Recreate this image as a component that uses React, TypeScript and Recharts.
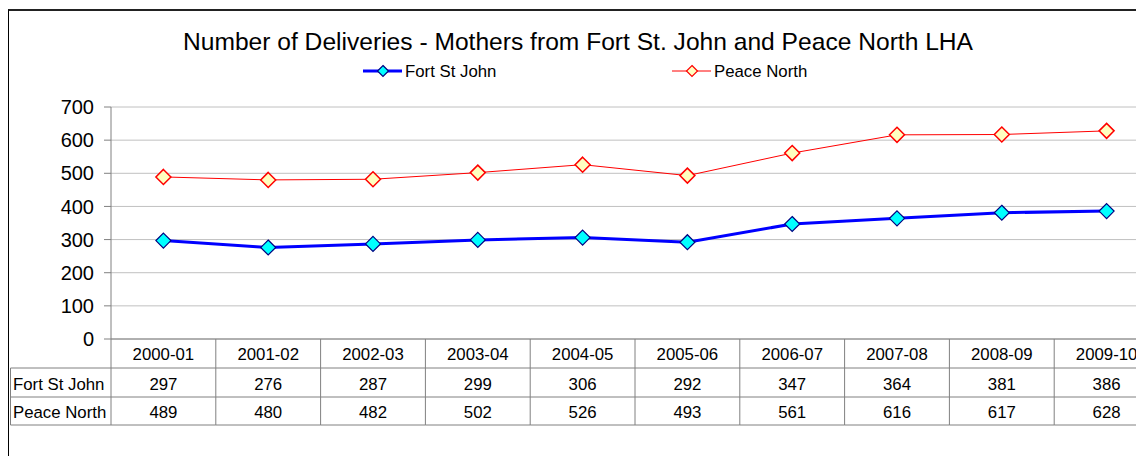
import React from 'react';
import { LineChart, Line, XAxis, YAxis, CartesianGrid } from 'recharts';

const categories = ['2000-01', '2001-02', '2002-03', '2003-04', '2004-05', '2005-06', '2006-07', '2007-08', '2008-09', '2009-10'];
const fortStJohn = [297, 276, 287, 299, 306, 292, 347, 364, 381, 386];
const peaceNorth = [489, 480, 482, 502, 526, 493, 561, 616, 617, 628];
const yTicks = [0, 100, 200, 300, 400, 500, 600, 700];
const seriesNames = ['Fort St John', 'Peace North'];
const titleText = 'Number of Deliveries - Mothers from Fort St. John and Peace North LHA';

const data = categories.map((c, i) => ({ period: c, fsj: fortStJohn[i], pn: peaceNorth[i] }));
const rows = [fortStJohn, peaceNorth];

const FONT = '"Liberation Sans", Arial, sans-serif';
const CHART_W = 1170;
const CHART_H = 448;
const MARGIN = { top: 99, right: 19, bottom: 22, left: 3 };
const Y_W = 100;
const X_H = 95;
const PLOT_LEFT = MARGIN.left + Y_W;
const PLOT_W = CHART_W - PLOT_LEFT - MARGIN.right;
const BAND = PLOT_W / categories.length;
const ROW_LINES = [29, 58, 86];
const ROW_BASE = [21, 51, 79];
const LABEL_LEFT = 2.5;
const GRID_STROKE = '#808080';
const TABLE_FONT = 16.8;

const makeDiamond = (fill: string, stroke: string, r: number, sw: number) => (props: any) => {
  const { cx, cy, index } = props;
  if (cx == null || cy == null) return <g key={`e${index}`} />;
  const pts = `${cx},${cy - r} ${cx + r},${cy} ${cx},${cy + r} ${cx - r},${cy}`;
  return <polygon key={`d${index}`} points={pts} fill={fill} stroke={stroke} strokeWidth={sw} />;
};

const BlueDot = makeDiamond('#00FFFF', '#000080', 7.5, 1.2);
const RedDot = makeDiamond('#FFFFC0', '#FF0000', 7.5, 1.5);

function TableTick(props: any) {
  const { x, y, payload } = props;
  const i = payload && payload.index != null ? payload.index : props.index;
  const left = x - BAND / 2;
  const right = x + BAND / 2;
  const textStyle = { fontFamily: FONT, fontSize: TABLE_FONT, fill: '#000' } as any;
  return (
    <g>
      <line x1={right} x2={right} y1={y} y2={y + ROW_LINES[2]} stroke={GRID_STROKE} strokeWidth={1} />
      {i === 0 && <line x1={left} x2={left} y1={y} y2={y + ROW_LINES[2]} stroke={GRID_STROKE} strokeWidth={1} />}
      {ROW_LINES.map((d, k) => (
        <line key={k} x1={left} x2={right} y1={y + d} y2={y + d} stroke={GRID_STROKE} strokeWidth={1} />
      ))}
      <text x={x} y={y + ROW_BASE[0]} textAnchor="middle" style={textStyle}>{payload.value}</text>
      {rows.map((r, k) => (
        <text key={k} x={x} y={y + ROW_BASE[k + 1]} textAnchor="middle" style={textStyle}>{r[i]}</text>
      ))}
      {i === 0 && (
        <g>
          {ROW_LINES.map((d, k) => (
            <line key={k} x1={LABEL_LEFT} x2={left} y1={y + d} y2={y + d} stroke={GRID_STROKE} strokeWidth={1} />
          ))}
          <line x1={LABEL_LEFT} x2={LABEL_LEFT} y1={y + ROW_LINES[0]} y2={y + ROW_LINES[2]} stroke={GRID_STROKE} strokeWidth={1} />
          {seriesNames.map((n, k) => (
            <text key={k} x={LABEL_LEFT + 2.5} y={y + ROW_BASE[k + 1]} textAnchor="start" style={textStyle}>{n}</text>
          ))}
        </g>
      )}
    </g>
  );
}

function LegendOverlay() {
  const items = [
    { name: seriesNames[0], x0: 355, color: '#0000FF', sw: 3, fill: '#00FFFF', stroke: '#000080' },
    { name: seriesNames[1], x0: 664, color: '#FF0000', sw: 1, fill: '#FFFFC0', stroke: '#FF0000' },
  ];
  const cy = 63;
  return (
    <svg width={1128} height={90} style={{ position: 'absolute', left: 0, top: 0 }}>
      <text x={570} y={42} textAnchor="middle" style={{ fontFamily: FONT, fontSize: 24.6, fill: '#000' }}>{titleText}</text>
      {items.map((it) => {
        const r = 5.5;
        const dx = it.x0 + 20;
        return (
          <g key={it.name}>
            <line x1={it.x0} x2={it.x0 + 39} y1={cy} y2={cy} stroke={it.color} strokeWidth={it.sw} />
            <polygon points={`${dx},${cy - r} ${dx + r},${cy} ${dx},${cy + r} ${dx - r},${cy}`} fill={it.fill} stroke={it.stroke} strokeWidth={1.2} />
            <text x={it.x0 + 42} y={cy + 6} style={{ fontFamily: FONT, fontSize: TABLE_FONT, fill: '#000' }}>{it.name}</text>
          </g>
        );
      })}
    </svg>
  );
}

export default function App() {
  return (
    <div style={{ position: 'fixed', left: 8, top: 8, width: 1128, height: 448, overflow: 'hidden', background: '#fff' }}>
      <div style={{ position: 'absolute', left: 0, top: 1, width: 2000, height: 2000, borderTop: '2px solid #222', borderLeft: '1px solid #000', boxSizing: 'border-box' }} />
      <LegendOverlay />
      <div style={{ position: 'absolute', left: 0, top: 0 }}>
        <LineChart width={CHART_W} height={CHART_H} data={data} margin={MARGIN}>
          <CartesianGrid vertical={false} stroke="#c0c0c0" />
          <XAxis
            dataKey="period"
            type="category"
            scale="band"
            height={X_H}
            interval={0}
            tickSize={0}
            tickMargin={0}
            tickLine={false}
            axisLine={{ stroke: GRID_STROKE }}
            tick={<TableTick />}
          />
          <YAxis
            domain={[0, 700]}
            ticks={yTicks}
            interval={0}
            width={Y_W}
            tickSize={7}
            tickMargin={10}
            axisLine={{ stroke: GRID_STROKE }}
            tickLine={{ stroke: GRID_STROKE }}
            tick={{ fontSize: 20, fill: '#000', fontFamily: FONT }}
          />
          <Line dataKey="pn" name={seriesNames[1]} stroke="#FF0000" strokeWidth={1} dot={RedDot} activeDot={false} isAnimationActive={false} />
          <Line dataKey="fsj" name={seriesNames[0]} stroke="#0000FF" strokeWidth={3} dot={BlueDot} activeDot={false} isAnimationActive={false} />
        </LineChart>
      </div>
    </div>
  );
}
